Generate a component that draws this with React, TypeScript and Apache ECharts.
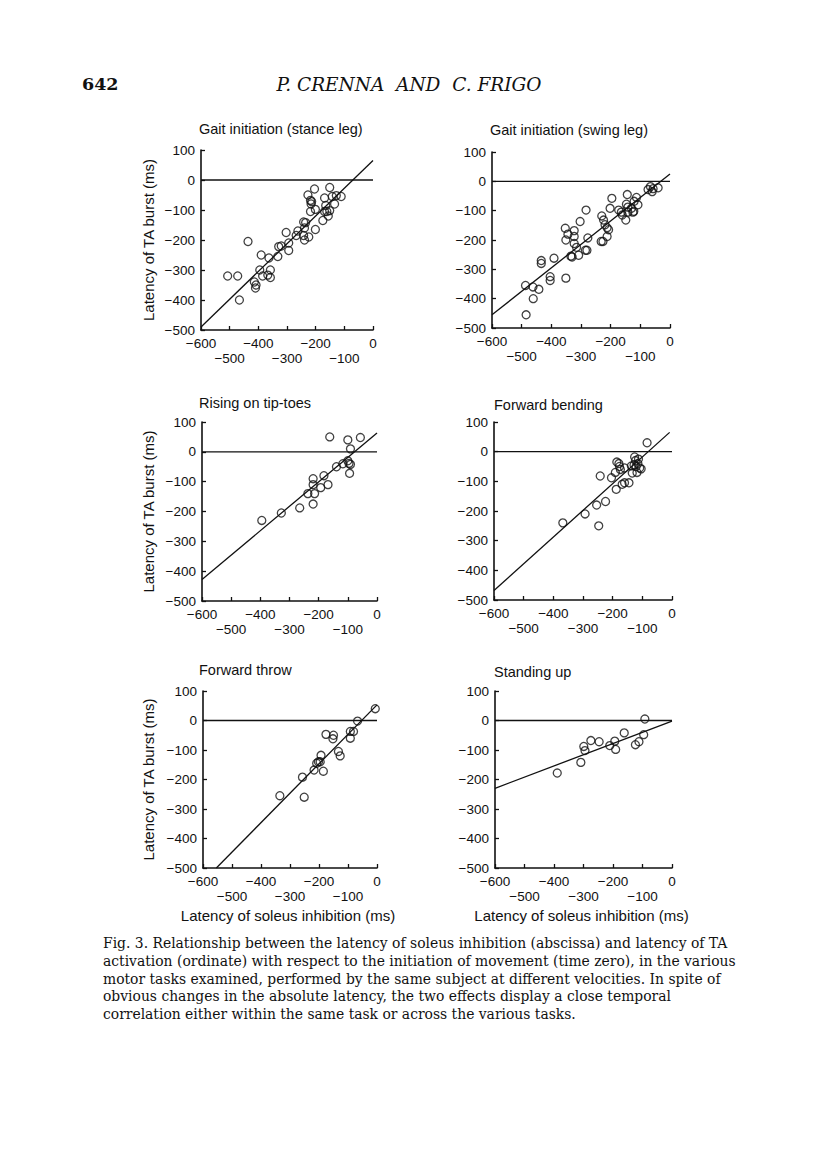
import React, { useEffect, useRef } from "react";
import * as echarts from "echarts";

// ---------- data ----------
const panelTitles = [
  "Gait initiation (stance leg)",
  "Gait initiation (swing leg)",
  "Rising on tip-toes",
  "Forward bending",
  "Forward throw",
  "Standing up",
];

const stancePoints: [number, number][] = [
  [-507, -320], [-472, -320], [-466, -400], [-436, -205], [-390, -250], [-395, -300],
  [-414, -340], [-408, -350], [-410, -360], [-385, -320], [-367, -317], [-358, -325],
  [-358, -300], [-363, -260], [-332, -255], [-329, -222], [-320, -220], [-303, -175],
  [-294, -235], [-294, -210], [-268, -185], [-262, -170], [-242, -140], [-235, -142],
  [-239, -160], [-239, -200], [-242, -185], [-224, -190], [-227, -50], [-218, -68],
  [-216, -80], [-218, -105], [-214, -72], [-201, -98], [-204, -30], [-201, -165],
  [-169, -105], [-175, -135], [-169, -60], [-165, -85], [-161, -105], [-156, -120],
  [-151, -25], [-151, -102], [-142, -55], [-134, -80], [-128, -52], [-111, -55],
];
const swingPoints: [number, number][] = [
  [-485, -455], [-487, -355], [-462, -360], [-461, -400], [-442, -368], [-434, -270],
  [-434, -280], [-391, -262], [-404, -325], [-404, -338], [-351, -330], [-353, -160],
  [-351, -200], [-344, -180], [-323, -168], [-323, -188], [-323, -212], [-315, -225],
  [-334, -255], [-330, -258], [-308, -252], [-303, -137], [-283, -98], [-277, -193],
  [-285, -235], [-280, -235], [-230, -118], [-226, -205], [-232, -205], [-224, -132],
  [-219, -148], [-212, -158], [-207, -165], [-212, -188], [-202, -92], [-196, -58],
  [-173, -98], [-164, -105], [-161, -115], [-149, -132], [-144, -45], [-147, -78],
  [-142, -88], [-142, -105], [-130, -92], [-125, -105], [-121, -68], [-122, -102],
  [-113, -55], [-108, -80], [-74, -28], [-66, -18], [-60, -35], [-57, -25], [-40, -22],
];
const risingPoints: [number, number][] = [
  [-395, -230], [-328, -205], [-265, -188], [-219, -175], [-219, -110], [-219, -90],
  [-214, -140], [-237, -140], [-193, -120], [-182, -80], [-168, -110], [-162, 50],
  [-139, -50], [-117, -40], [-100, -30], [-96, -39], [-91, -42], [-94, -72], [-91, 10],
  [-100, 40], [-57, 48],
];
const bendingPoints: [number, number][] = [
  [-368, -240], [-293, -210], [-254, -180], [-247, -250], [-242, -82], [-224, -168],
  [-204, -88], [-191, -70], [-188, -127], [-186, -35], [-179, -40], [-177, -50],
  [-174, -60], [-168, -110], [-160, -55], [-160, -105], [-145, -105], [-137, -48],
  [-134, -72], [-126, -18], [-123, -30], [-121, -50], [-118, -70], [-115, -40],
  [-113, -25], [-109, -55], [-104, -58], [-128, -45], [-84, 30],
];
const throwPoints: [number, number][] = [
  [-335, -255], [-257, -192], [-251, -260], [-217, -168], [-208, -145], [-202, -140],
  [-193, -118], [-196, -140], [-185, -172], [-176, -47], [-150, -50], [-152, -62],
  [-133, -105], [-127, -120], [-92, -37], [-92, -60], [-81, -37], [-67, -2], [-6, 40],
];
const standingPoints: [number, number][] = [
  [-389, -178], [-309, -142], [-299, -88], [-295, -102], [-275, -68], [-247, -72],
  [-211, -85], [-194, -70], [-191, -98], [-162, -42], [-124, -82], [-112, -72],
  [-96, -48], [-92, 5],
];

const stanceFit: [number, number][] = [[-600, -490], [0, 65]];
const swingFit: [number, number][] = [[-600, -455], [0, 25]];
const risingFit: [number, number][] = [[-600, -428], [0, 63]];
const bendingFit: [number, number][] = [[-600, -468], [-8, 65]];
const throwFit: [number, number][] = [[-554, -500], [0, 53]];
const standingFit: [number, number][] = [[-600, -230], [0, -2]];

const zeroLine: [number, number][] = [[-600, 0], [0, 0]];

const xMin = -600, xMax = 0, xStep = 100;
const yMin = -500, yMax = 100, yStep = 100;

const yAxisTitle = "Latency of TA burst (ms)";
const xAxisTitle = "Latency of soleus inhibition (ms)";
const pageNumber = "642";
const runningHead = "P. CRENNA  AND  C. FRIGO";
const captionLines = [
  "Fig. 3. Relationship between the latency of soleus inhibition (abscissa) and latency of TA",
  "activation (ordinate) with respect to the initiation of movement (time zero), in the various",
  "motor tasks examined, performed by the same subject at different velocities. In spite of",
  "obvious changes in the absolute latency, the two effects display a close temporal",
  "correlation either within the same task or across the various tasks.",
];

const panelPoints = [stancePoints, swingPoints, risingPoints, bendingPoints, throwPoints, standingPoints];
const panelFits = [stanceFit, swingFit, risingFit, bendingFit, throwFit, standingFit];

// ---------- layout ----------
const layouts = [
  { left: 201, top: 150, width: 172, height: 180, tx: 199, ty: 129 },
  { left: 492, top: 152, width: 178, height: 176, tx: 490, ty: 130 },
  { left: 202, top: 422, width: 175, height: 179, tx: 199, ty: 403 },
  { left: 494, top: 422, width: 178, height: 178, tx: 494, ty: 405 },
  { left: 203, top: 691, width: 174, height: 177, tx: 199, ty: 670 },
  { left: 495, top: 691, width: 177, height: 177, tx: 494, ty: 672 },
];

const SANS = "'Liberation Sans', Arial, Helvetica, sans-serif";
const SERIF = "'DejaVu Serif', 'Liberation Serif', serif";
const INK = "#111";

const fmt = (v: number) => (v === 0 ? "0" : (v < 0 ? "\u2212" : "") + Math.abs(v));
const isEven = (v: number) => Math.round(v / 100) % 2 === 0;

export default function App() {
  const ref = useRef<HTMLDivElement>(null);
  useEffect(() => {
    if (!ref.current) return;
    const chart = echarts.init(ref.current, null, { renderer: "svg" });

    const grid: any[] = [];
    const xAxis: any[] = [];
    const yAxis: any[] = [];
    const series: any[] = [];
    const graphic: any[] = [];

    const labelBase = {
      color: INK,
      fontSize: 13.5,
      fontFamily: SANS,
      showMinLabel: true,
      showMaxLabel: true,
    };

    layouts.forEach((L, i) => {
      grid.push({ left: L.left, top: L.top, width: L.width, height: L.height, containLabel: false });
      // main x axis: line, ticks, first row of labels
      xAxis.push({
        type: "value",
        gridIndex: i,
        position: "bottom",
        min: xMin,
        max: xMax,
        interval: xStep,
        axisLine: { show: true, onZero: false, lineStyle: { color: INK, width: 1.6 } },
        axisTick: { show: true, inside: true, length: 4, lineStyle: { color: INK, width: 1.3 } },
        splitLine: { show: false },
        axisLabel: { ...labelBase, margin: 6, formatter: (v: number) => (isEven(v) ? fmt(v) : "") },
      });
      // second row of labels (staggered)
      xAxis.push({
        type: "value",
        gridIndex: i,
        position: "bottom",
        offset: 0,
        min: xMin,
        max: xMax,
        interval: xStep,
        axisLine: { show: false, onZero: false },
        axisTick: { show: false },
        splitLine: { show: false },
        axisLabel: { ...labelBase, margin: 21, formatter: (v: number) => (isEven(v) ? "" : fmt(v)) },
      });
      yAxis.push({
        type: "value",
        gridIndex: i,
        min: yMin,
        max: yMax,
        interval: yStep,
        axisLine: { show: true, onZero: false, lineStyle: { color: INK, width: 1.6 } },
        axisTick: { show: true, inside: true, length: 4, lineStyle: { color: INK, width: 1.3 } },
        splitLine: { show: false },
        axisLabel: { ...labelBase, margin: 6, formatter: fmt },
      });
      const xi = 2 * i;
      series.push({
        type: "line",
        xAxisIndex: xi,
        yAxisIndex: i,
        data: zeroLine,
        showSymbol: false,
        silent: true,
        lineStyle: { color: INK, width: 1.3 },
      });
      series.push({
        type: "line",
        xAxisIndex: xi,
        yAxisIndex: i,
        data: panelFits[i],
        showSymbol: false,
        silent: true,
        lineStyle: { color: INK, width: 1.3 },
      });
      series.push({
        type: "scatter",
        xAxisIndex: xi,
        yAxisIndex: i,
        data: panelPoints[i],
        symbol: "circle",
        symbolSize: 8,
        itemStyle: { color: "rgba(0,0,0,0)", borderColor: INK, borderWidth: 1.3 },
      });
      graphic.push({
        type: "text",
        x: L.tx,
        y: L.ty,
        style: { text: panelTitles[i], fill: INK, font: `14.5px ${SANS}`, align: "left", verticalAlign: "middle" },
      });
      if (i % 2 === 0) {
        graphic.push({
          type: "text",
          x: 148,
          y: L.top + L.height / 2,
          rotation: Math.PI / 2,
          style: { text: yAxisTitle, fill: INK, font: `15px ${SANS}`, align: "center", verticalAlign: "middle" },
        });
      }
      if (i >= 4) {
        graphic.push({
          type: "text",
          x: L.left + L.width / 2 - 2,
          y: 915,
          style: { text: xAxisTitle, fill: INK, font: `15px ${SANS}`, align: "center", verticalAlign: "middle" },
        });
      }
    });

    graphic.push({
      type: "text",
      x: 82,
      y: 84,
      style: { text: pageNumber, fill: INK, font: `bold 17.5px ${SERIF}`, align: "left", verticalAlign: "middle" },
    });
    graphic.push({
      type: "text",
      x: 409,
      y: 84,
      style: { text: runningHead, fill: INK, font: `italic 18.5px ${SERIF}`, align: "center", verticalAlign: "middle" },
    });
    captionLines.forEach((line, k) => {
      graphic.push({
        type: "text",
        x: 103,
        y: 943 + k * 17.8,
        style: { text: line, fill: INK, font: `13.9px ${SERIF}`, align: "left", verticalAlign: "middle" },
      });
    });

    chart.setOption({
      animation: false,
      backgroundColor: "#fff",
      grid,
      xAxis,
      yAxis,
      series,
      graphic,
    });
    return () => chart.dispose();
  }, []);
  return (
    <div
      ref={ref}
      style={{ position: "absolute", left: 0, top: 0, width: 816, height: 1169, background: "#fff" }}
    />
  );
}
